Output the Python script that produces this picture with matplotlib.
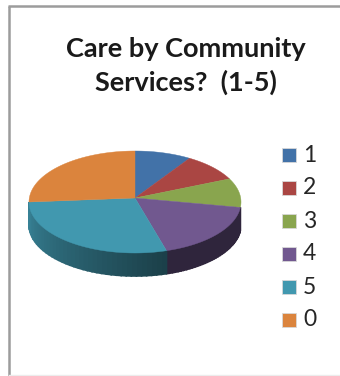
import numpy as np
import matplotlib
matplotlib.use("Agg")
import matplotlib.pyplot as plt
from matplotlib.colors import to_rgb
from matplotlib.patches import Rectangle

TITLE = "Care by Community\nServices?  (1-5)"
LABELS = ["1", "2", "3", "4", "5", "0"]
VALUES = [8.6, 8.9, 9.2, 18.5, 29.8, 25.0]
COLORS = ["#4272a8", "#aa4643", "#89a54e", "#71588f", "#4198af", "#db843d"]

WIDTH, HEIGHT = 340, 376

# pie geometry in pixels, y measured from the top
CX, CY = 135, 202
RX, RY = 106, 51
APEX = (135, 198)
DEPTH = 23

# brightness of the side wall per slice, right end then left end
WALL_SHADES = {"4": (0.42, 0.42), "5": (0.42, 0.85)}


def edge_point(angle):
    """Point on the rim for an angle measured clockwise from 12 o'clock."""
    return CX + RX * np.sin(angle), CY - RY * np.cos(angle)


def shade(color, factor):
    return tuple(c * factor for c in to_rgb(color))


fig = plt.figure(figsize=(WIDTH / 100, HEIGHT / 100), dpi=100)
ax = fig.add_axes([0, 0, 1, 1])
ax.set_xlim(0, WIDTH)
ax.set_ylim(HEIGHT, 0)
ax.axis("off")

# chart frame
ax.plot([8.5, 8.5], [376, 6], color="#9c9c9c", lw=1.8, solid_capstyle="butt")
ax.plot([7.8, 340], [6, 6], color="#9c9c9c", lw=1.8, solid_capstyle="butt")
ax.plot([9, 340], [375, 375], color="#ececec", lw=1)

ax.text(186, 66, TITLE, ha="center", va="center", fontsize=19.5,
        fontweight="bold", family="Lato", color="#1a1a1a", linespacing=1.45)

edges = np.radians(np.concatenate([[0], np.cumsum(VALUES)]) / sum(VALUES) * 360)

# side wall, only the slices on the front half of the rim have one
for i, (label, color) in enumerate(zip(LABELS, COLORS)):
    if label not in WALL_SHADES:
        continue
    right, left = WALL_SHADES[label]
    lo, hi = edges[i], min(edges[i + 1], 3 * np.pi / 2)
    steps = np.linspace(lo, hi, 40)
    for a, b, f in zip(steps[:-1], steps[1:], np.linspace(right, left, 39)):
        xa, ya = edge_point(a)
        xb, yb = edge_point(b)
        ax.fill([xa, xb, xb, xa], [ya, yb, yb + DEPTH, ya + DEPTH],
                color=shade(color, f), lw=1.2, zorder=2)

# top face
for i, color in enumerate(COLORS):
    angles = np.linspace(edges[i], edges[i + 1], 80)
    xs, ys = edge_point(angles)
    ax.fill(np.r_[APEX[0], xs], np.r_[APEX[1], ys], color=color, lw=0.3, zorder=3)

# legend
for i, (label, color) in enumerate(zip(LABELS, COLORS)):
    y = 155 + i * 33
    ax.add_patch(Rectangle((282, y - 7), 14, 14, facecolor=color,
                           edgecolor="#d8d8d8", lw=0.6))
    ax.text(303, y, label, ha="left", va="center", fontsize=16.5,
            family="Lato", color="#262626")

fig.savefig("out.png", dpi=100)
